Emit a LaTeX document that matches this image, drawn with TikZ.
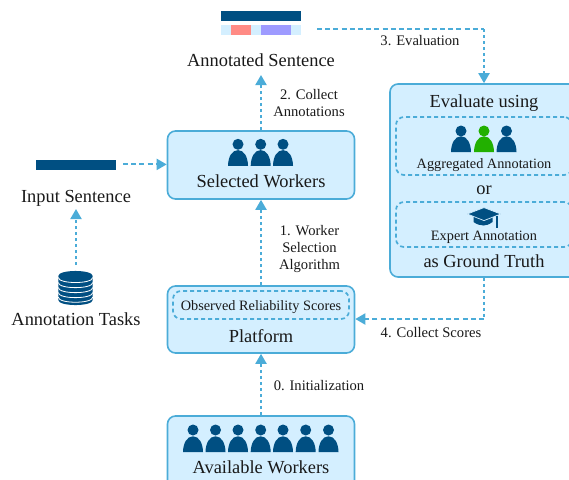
\documentclass[tikz,border=0pt]{standalone}
\usepackage{fontspec}
\setmainfont{Liberation Serif}
\usetikzlibrary{arrows.meta}
\definecolor{linec}{HTML}{4BACD8}
\definecolor{fillc}{HTML}{D4EFFF}
\definecolor{darkb}{HTML}{004F82}
\definecolor{redb}{HTML}{FF8B85}
\definecolor{purb}{HTML}{9E9BFF}
\definecolor{greenb}{HTML}{22B000}
\tikzset{
  box/.style={draw=linec,fill=fillc,line width=1.6pt,rounded corners=8pt,inner sep=0pt},
  inner box/.style={draw=linec,line width=1.7pt,rounded corners=8pt,dash pattern=on 4pt off 3pt,inner sep=0pt},
  big/.style={font=\fontsize{18.4}{20}\selectfont,inner sep=0pt,anchor=base,text=black!90},
  mid/.style={font=\fontsize{14.3}{16}\selectfont,inner sep=0pt,anchor=base,text=black!90},
  lab/.style={font=\fontsize{14.6}{17}\selectfont,inner sep=0pt,align=center,text=black!90},
  onelab/.style={font=\fontsize{14.6}{17}\selectfont,inner sep=0pt,anchor=base,text=black!90},
  vconn/.style={draw=linec,line width=2pt,dash pattern=on 3.2pt off 2.8pt},
  hconn/.style={draw=linec,line width=2pt,dash pattern=on 5pt off 3.2pt},
  tip/.style={-{Triangle[width=11pt,length=10pt]}},
  bar/.style={fill=darkb,draw=none,inner sep=0pt},
}
\newcommand{\person}[4]{% x, headY, bottomY, colour
  \fill[#4] (#1,#2) circle (5.5);
  \fill[#4] (#1-10,#3) .. controls (#1-9.8,#3-9) and (#1-6,#3-15.7) .. (#1,#3-15.7)
     .. controls (#1+6,#3-15.7) and (#1+9.8,#3-9) .. (#1+10,#3) -- cycle;
}
\newcommand{\dbarc}[1]{%
  \draw[white,line width=0.8pt] (58.3,#1) .. controls (58.3,#1+6.7) and (92.7,#1+6.7) .. (92.7,#1);
}
\begin{document}
\begin{tikzpicture}[x=1pt,y=-1pt]
\useasboundingbox (0,0) rectangle (569,479);
\clip (0,0) rectangle (569,479);

% boxes
\node[box,minimum width=187pt,minimum height=68pt] (sel) at (261,165) {};
\node[box,minimum width=187pt,minimum height=67pt] (plat) at (261,319.5) {};
\node[box,minimum width=187pt,minimum height=72pt] (avail) at (261,452) {};
\node[box,minimum width=188pt,minimum height=193pt] (eval) at (484,180.5) {};
\node[inner box,minimum width=176pt,minimum height=28pt] (obs) at (261,305) {};
\node[inner box,minimum width=176pt,minimum height=58pt] (agg) at (484,146) {};
\node[inner box,minimum width=176pt,minimum height=45pt] (exp) at (484,224.5) {};

% sentence bars
\node[bar,minimum width=80pt,minimum height=10pt] (annbar) at (261,16) {};
\fill[fillc] (221,25) rectangle (301,35);
\fill[redb] (231,25) rectangle (251,35);
\fill[purb] (261,25) rectangle (291,35);
\node[bar,minimum width=80pt,minimum height=10pt] (inbar) at (76,165) {};

% texts
\node[big] (anntext) at (261,66.5) {Annotated Sentence};
\node[big] (intext) at (76,202.5) {Input Sentence};
\node[big] (tasktext) at (76,325.3) {Annotation Tasks};
\node[big] (seltext) at (261,187.5) {Selected Workers};
\node[big] (plattext) at (261,342) {Platform};
\node[big] (availtext) at (261,473.5) {Available Workers};
\node[big] (evaltext) at (484,107.5) {Evaluate using};
\node[big] (ortext) at (484,194) {or};
\node[big] (gttext) at (484,267.5) {as Ground Truth};
\node[mid] (obstext) at (261,310) {Observed Reliability Scores};
\node[mid] (aggtext) at (484,168) {Aggregated Annotation};
\node[mid] (exptext) at (484,240) {Expert Annotation};

% labels
\node[lab] (l2) at (309,103.4) {2. Collect\\Annotations};
\node[onelab] (l3) at (420,45.5) {3. Evaluation};
\node[lab] (l1) at (309.5,249) {1. Worker\\Selection\\Algorithm};
\node[onelab] (l4) at (431,337) {4. Collect Scores};
\node[onelab] (l0) at (319,390) {0. Initialization};

% people
\foreach \x in {238,260.7,283} {\person{\x}{144.3}{165.8}{darkb}}
\foreach \x in {193,215.5,238,260.7,283,305.7,328.5} {\person{\x}{430}{452}{darkb}}
\person{461}{131}{152}{darkb}
\person{484}{131}{152}{greenb}
\person{506.5}{131}{152}{darkb}

% graduation cap
\fill[darkb] (473.5,216) -- (492.5,216) -- (492.5,222) .. controls (489,224.5) and (486.5,225.5) .. (483.5,225.5)
   .. controls (480.5,225.5) and (477,224.5) .. (473.5,222) -- cycle;
\fill[darkb,draw=fillc,line width=0.7pt] (467.3,214) -- (484,207.6) -- (500.7,214) -- (484,220.6) -- cycle;
\fill[darkb] (496.2,215.5) rectangle (498,227.5);

% database
\fill[darkb] (58.3,276) .. controls (58.3,269.3) and (92.7,269.3) .. (92.7,276)
  -- (92.7,300) .. controls (92.7,306.7) and (58.3,306.7) .. (58.3,300) -- cycle;
\dbarc{277.5}
\dbarc{282.6}
\dbarc{287.6}
\dbarc{292.6}
\dbarc{297.2}
\coordinate (dbtop) at (76,265);
\coordinate (instop) at (76,209);
\coordinate (annstop) at (261,75);
\coordinate (instart) at (123,164.4);
\coordinate (evstart) at (317,29);
\coordinate (c1) at (484,29);
\coordinate (c2) at (484,319);

% connectors
\draw[vconn,tip] (dbtop) -- (instop);
\draw[hconn,tip] (instart) -- (sel.west |- instart);
\draw[vconn,tip] (sel.north) -- (annstop);
\draw[vconn,tip] (plat.north) -- (sel.south);
\draw[vconn,tip] (avail.north) -- (plat.south);
\draw[hconn] (evstart) -- (c1);
\draw[vconn,tip] (c1) -- (eval.north);
\draw[vconn] (eval.south) -- (c2);
\draw[hconn,tip] (c2) -- (plat.east |- c2);
\end{tikzpicture}
\end{document}
